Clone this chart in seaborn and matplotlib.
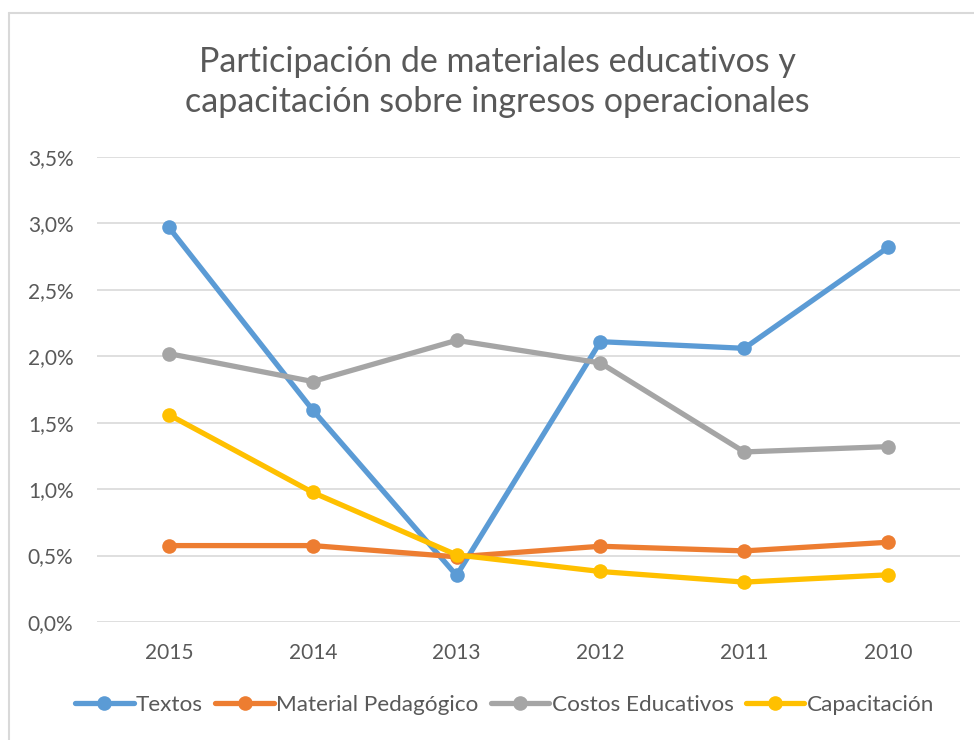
import matplotlib

matplotlib.use("Agg")

import matplotlib.pyplot as plt
from matplotlib.lines import Line2D
from matplotlib.ticker import FuncFormatter, MultipleLocator
import pandas as pd
import seaborn as sns

YEARS = ["2015", "2014", "2013", "2012", "2011", "2010"]
TEXTOS = [2.97, 1.595, 0.35, 2.11, 2.06, 2.82]
MATERIAL = [0.575, 0.575, 0.49, 0.57, 0.535, 0.60]
COSTOS = [2.02, 1.81, 2.12, 1.95, 1.28, 1.32]
CAPACITACION = [1.56, 0.975, 0.505, 0.38, 0.30, 0.355]

SERIES = ["Textos", "Material Pedagógico", "Costos Educativos", "Capacitación"]
COLORS = ["#5b9bd5", "#ed7d31", "#a5a5a5", "#ffc000"]
TEXT_COLOR = "#595959"
GRID_COLOR = "#d9d9d9"

rows = []
for name, values in zip(SERIES, [TEXTOS, MATERIAL, COSTOS, CAPACITACION]):
    for year, v in zip(YEARS, values):
        rows.append({"year": year, "serie": name, "value": v / 100})
df = pd.DataFrame(rows)

sns.set_theme(style="white")
plt.rcParams["font.family"] = ["Lato", "DejaVu Sans"]

fig = plt.figure(figsize=(9.74, 7.4), dpi=100, facecolor="white")
ax = fig.add_axes([0.0996, 0.1595, 0.886, 0.6283])

# chart frame: only left and top edges are visible in the crop
bx, by = 9 / 974, 1 - 13 / 740
fig.add_artist(Line2D([bx, 1.0], [by, by], color=GRID_COLOR, lw=1.5,
                      transform=fig.transFigure))
fig.add_artist(Line2D([bx, bx], [0.0, by], color=GRID_COLOR, lw=1.5,
                      transform=fig.transFigure))

sns.lineplot(
    data=df,
    x="year",
    y="value",
    hue="serie",
    hue_order=SERIES,
    palette=COLORS,
    marker="o",
    markersize=10.5,
    markeredgewidth=0,
    linewidth=3.8,
    sort=False,
    ax=ax,
)

ax.set_xlim(-0.5, len(YEARS) - 0.5)
ax.set_ylim(0, 0.035)
ax.yaxis.set_major_locator(MultipleLocator(0.005))
ax.yaxis.set_major_formatter(
    FuncFormatter(lambda v, _: f"{v * 100:.1f}%".replace(".", ","))
)
ax.grid(axis="y", color=GRID_COLOR, linewidth=1.2)
ax.set_axisbelow(True)
for spine in ax.spines.values():
    spine.set_visible(False)
ax.tick_params(axis="both", labelsize=15, colors=TEXT_COLOR, length=0)
ax.tick_params(axis="x", pad=15)
ax.tick_params(axis="y", pad=17)
ax.set_xlabel("")
ax.set_ylabel("")

handles, labels = ax.get_legend_handles_labels()
ax.get_legend().remove()
leg = fig.legend(
    handles,
    labels,
    loc="center",
    bbox_to_anchor=(0.518, 0.047),
    ncol=4,
    frameon=False,
    fontsize=16.2,
    handlelength=2.6,
    handletextpad=0.1,
    columnspacing=0.55,
)
for t in leg.get_texts():
    t.set_color(TEXT_COLOR)

fig.text(
    0.511,
    0.889,
    "Participación de materiales educativos y\ncapacitación sobre ingresos operacionales",
    ha="center",
    va="center",
    fontsize=24.5,
    color=TEXT_COLOR,
    linespacing=1.3,
)

fig.savefig("out.png", dpi=100, facecolor="white")
